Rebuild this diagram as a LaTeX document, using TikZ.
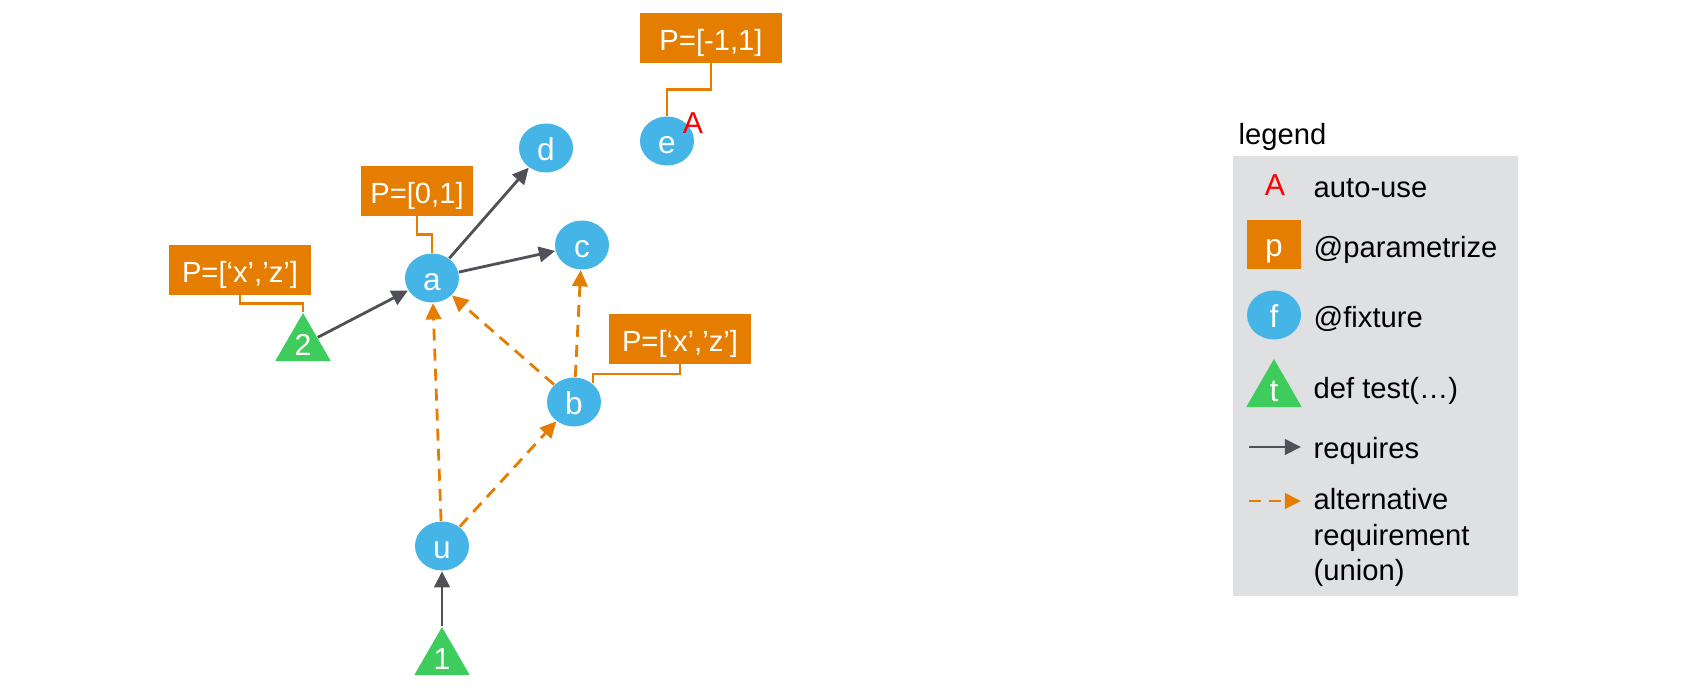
\documentclass[tikz,border=0pt]{standalone}
\usepackage{fontspec}
\setmainfont{Liberation Sans}
\usepackage{tikz}
\usetikzlibrary{shapes,arrows.meta,positioning,calc}
\usepackage{xcolor}
\definecolor{paramorange}{RGB}{229,126,0}
\definecolor{fixtureblue}{RGB}{69,180,230}
\definecolor{testgreen}{RGB}{62,204,92}
\definecolor{requiregray}{RGB}{80,81,86}
\definecolor{legendgray}{RGB}{223,224,226}
\definecolor{autored}{RGB}{255,0,0}
\tikzset{
    fixture/.style={ellipse, fill=fixtureblue, text=white, minimum width=0.54cm, minimum height=0.49cm, inner sep=0pt, text height=0.8em, text depth=0.1em, font=\fontsize{9}{10}\selectfont},
    param/.style={rectangle, fill=paramorange, text=white, minimum width=1.42cm, minimum height=0.49cm, inner sep=0pt, text height=0.905em, text depth=0.212em, font=\fontsize{8.3}{10}\selectfont},
    testcase/.style={regular polygon, regular polygon sides=3, fill=testgreen, text=white, minimum size=0.64cm, inner sep=0pt, font=\fontsize{8.6}{10}\selectfont},
    autouse/.style={text=autored, inner sep=0pt, font=\fontsize{8.6}{10}\selectfont},
    legendtext/.style={anchor=west, inner sep=0pt, align=left, text height=0.905em, text depth=0.212em, font=\fontsize{8.3}{10}\selectfont},
    requires/.style={line width=0.8pt, draw=requiregray, -{Triangle[length=4.6pt,width=4.4pt]}},
    alternative/.style={line width=0.8pt, draw=paramorange, dash pattern=on 3.4pt off 2.3pt, -{Triangle[length=4.6pt,width=4.4pt]}},
    paramlink/.style={draw=paramorange, line width=0.65pt}
}

\begin{document}
\begin{tikzpicture}[x=0.01cm, y=-0.01cm]
    \useasboundingbox (0,0) rectangle (1700,691);

    % Fixtures and tests
    \node[fixture] (e) at (667,141) {e};
    \node[fixture] (d) at (546,148) {d};
    \node[fixture] (a) at (432,278) {a};
    \node[fixture] (c) at (582,245) {c};
    \node[fixture] (b) at (574,402) {b};
    \node[fixture] (u) at (442,546) {u};
    \node[testcase] (t2) at (303,345) {2};
    \node[testcase] (t1) at (442,659) {1};
    \node[autouse] (eauto) at (693,123) {A};

    % Parameters
    \node[param] (pe) at (711,38) {P=[-1,1]};
    \node[param, minimum width=1.12cm] (pa) at (417,191) {P=[0,1]};
    \node[param] (pt2) at (240,270) {P=[‘x’,’z’]};
    \node[param] (pb) at (680,339) {P=[‘x’,’z’]};
    \draw[paramlink] (pe.south) |- ($(pe.south)!.5!(e.north)$) -| (e.north);
    \draw[paramlink] (pa.south) |- ($(pa.south)!.5!(a.north)$) -| (a.north);
    \draw[paramlink] (pt2.south) |- ($(pt2.south)!.5!(t2.corner 1)$) -| (t2.corner 1);
    \draw[paramlink] (pb.south) |- ($(pb.south)!.5!(b.45)$) -| (b.45);

    % Requirements
    \draw[requires] (t2) -- (a);
    \draw[requires] (a) -- (d);
    \draw[requires] (a) -- (c);
    \draw[requires] (t1.corner 1) -- (u);
    \draw[alternative] (b) -- (a);
    \draw[alternative] (b) -- (c);
    \draw[alternative] (u) -- (a);
    \draw[alternative] (u) -- (b);

    % Legend
    \node[legendtext] (legtitle) at (1238,132) {legend};
    \node[fill=legendgray, minimum width=2.85cm, minimum height=4.4cm, inner sep=0pt] (legbox) at (1375.5,376) {};
    \node[autouse] (legA) at (1275,185) {A};
    \node[legendtext] at (1313,185) {auto-use};
    \node[param, minimum width=0.54cm, font=\fontsize{9}{10}\selectfont] (legp) at (1274,244.5) {p};
    \node[legendtext] at (1313,245) {@parametrize};
    \node[fixture] (legf) at (1274,315) {f};
    \node[legendtext] at (1313,315) {@fixture};
    \node[testcase, font=\fontsize{9}{10}\selectfont] (legt) at (1274,391) {t};
    \node[legendtext] at (1313,386) {def test(…)};
    \coordinate (reqa) at (1249,447);
    \coordinate (reqb) at (1301,447);
    \draw[requires] (reqa) -- (reqb);
    \node[legendtext] at (1313,446) {requires};
    \coordinate (alta) at (1249,501);
    \coordinate (altb) at (1301,501);
    \draw[alternative] (alta) -- (altb);
    \node[legendtext, anchor=north west, text height=, text depth=] at (1313,488) {alternative\\requirement\\(union)};
\end{tikzpicture}
\end{document}
